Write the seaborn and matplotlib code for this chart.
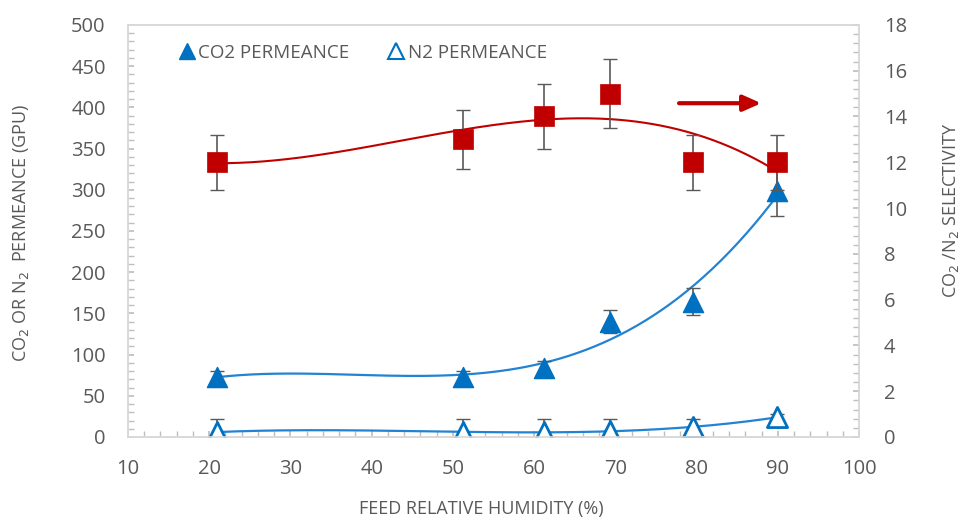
import numpy as np
import pandas as pd
import seaborn as sns
import matplotlib
matplotlib.use("Agg")
from matplotlib import pyplot as plt
from matplotlib.lines import Line2D
from matplotlib.ticker import MultipleLocator

# feed relative humidity (%)
rh = [21.0, 51.3, 61.2, 69.4, 79.5, 89.9]
# permeance (GPU)
co2_perm = [73, 73, 84, 140, 164, 298]
co2_err = [7.3, 7.3, 8.4, 14.0, 16.4, 29.8]
n2_perm = [6, 6, 6, 7, 12, 24]
n2_err = [16, 16, 16, 15, 10, 4]
# CO2/N2 selectivity
selectivity = [12.0, 13.0, 14.0, 15.0, 12.0, 12.0]
sel_err = [1.2, 1.3, 1.4, 1.5, 1.2, 1.2]

x_ticks = list(range(10, 101, 10))
left_ticks = list(range(0, 501, 50))
right_ticks = list(range(0, 19, 2))

BLUE = "#0070C0"
BLUE_LINE = "#2383D2"
RED = "#C00000"
GREY = "#595959"
SPINE = "#D9D9D9"

sns.set_theme(style="white")
plt.rcParams["font.family"] = ["Open Sans", "DejaVu Sans"]

df = pd.DataFrame({"rh": rh, "co2": co2_perm, "n2": n2_perm, "sel": selectivity})

# polynomial trendlines (order 3) like the spreadsheet ones
xs = np.linspace(min(rh), max(rh), 200)
trend = pd.DataFrame({"rh": xs})
for col in ["co2", "n2", "sel"]:
    trend[col] = np.polyval(np.polyfit(df["rh"], df[col], 3), xs)

fig = plt.figure(figsize=(9.62, 5.19), dpi=100)
ax = fig.add_axes([0.133, 0.158, 0.760, 0.794])
ax2 = ax.twinx()

sns.lineplot(data=trend, x="rh", y="co2", ax=ax, color=BLUE_LINE, lw=1.6)
sns.lineplot(data=trend, x="rh", y="n2", ax=ax, color=BLUE_LINE, lw=1.6)
ax.errorbar(rh, co2_perm, yerr=co2_err, fmt="none", ecolor=GREY, elinewidth=1.2, capsize=5, zorder=3)
ax.errorbar(rh, n2_perm, yerr=n2_err, fmt="none", ecolor=GREY, elinewidth=1.2, capsize=5, zorder=3)
sns.scatterplot(data=df, x="rh", y="co2", ax=ax, marker="^", s=210, color=BLUE,
                edgecolor=BLUE, linewidth=1, zorder=4)
sns.scatterplot(data=df, x="rh", y="n2", ax=ax, marker="^", s=210, facecolor="white",
                edgecolor=BLUE, linewidth=2, zorder=4)

sns.lineplot(data=trend, x="rh", y="sel", ax=ax2, color=RED, lw=1.5)
ax2.errorbar(rh, selectivity, yerr=sel_err, fmt="none", ecolor=GREY, elinewidth=1.2, capsize=5, zorder=3)
sns.scatterplot(data=df, x="rh", y="sel", ax=ax2, marker="s", s=190, color=RED,
                edgecolor=RED, linewidth=0.5, zorder=4)

ax.set_xlim(10, 100)
ax.set_ylim(0, 500)
ax2.set_ylim(0, 18)
ax.set_xticks(x_ticks)
ax.set_yticks(left_ticks)
ax2.set_yticks(right_ticks)
ax.xaxis.set_minor_locator(MultipleLocator(2))
ax.yaxis.set_minor_locator(MultipleLocator(10))
ax2.yaxis.set_minor_locator(MultipleLocator(0.4))

for a in (ax, ax2):
    for s in a.spines.values():
        s.set_color(SPINE)
        s.set_linewidth(1.2)
    a.tick_params(which="both", direction="in", color="#BFBFBF", labelcolor=GREY, labelsize=14.5)
    a.tick_params(which="both", length=4)
ax.tick_params(axis="x", bottom=True, which="both", pad=16)
ax.tick_params(axis="y", left=True, which="both", pad=16)
ax2.tick_params(axis="y", right=True, which="both", pad=18)

ax.set_xlabel("FEED RELATIVE HUMIDITY (%)", color=GREY, fontsize=13)
ax.xaxis.set_label_coords(0.483, -0.153)
ax.set_ylabel("CO$_2$ OR N$_2$  PERMEANCE (GPU)", color=GREY, fontsize=13)
ax.yaxis.set_label_coords(-0.133, 0.495)
ax2.set_ylabel("CO$_2$ /N$_2$ SELECTIVITY", color=GREY, fontsize=13, rotation=90)
ax2.yaxis.set_label_coords(1.112, 0.55)

ax.annotate("", xy=(0.87, 0.81), xytext=(0.75, 0.81), xycoords="axes fraction",
            arrowprops=dict(arrowstyle="-|>,head_length=0.9,head_width=0.4", color=RED, lw=3))

handles = [
    Line2D([], [], marker="^", ls="none", color=BLUE, markersize=11),
    Line2D([], [], marker="^", ls="none", markerfacecolor="white", markeredgecolor=BLUE,
           markeredgewidth=1.5, markersize=11),
]
leg = ax.legend(handles, ["CO2 PERMEANCE", "N2 PERMEANCE"], loc="upper left",
                bbox_to_anchor=(0.045, 0.995), ncol=2, frameon=False, fontsize=13.5,
                handletextpad=0.1, columnspacing=2.0, handlelength=1.0)
for t in leg.get_texts():
    t.set_color(GREY)

fig.savefig("out.png", dpi=100)
